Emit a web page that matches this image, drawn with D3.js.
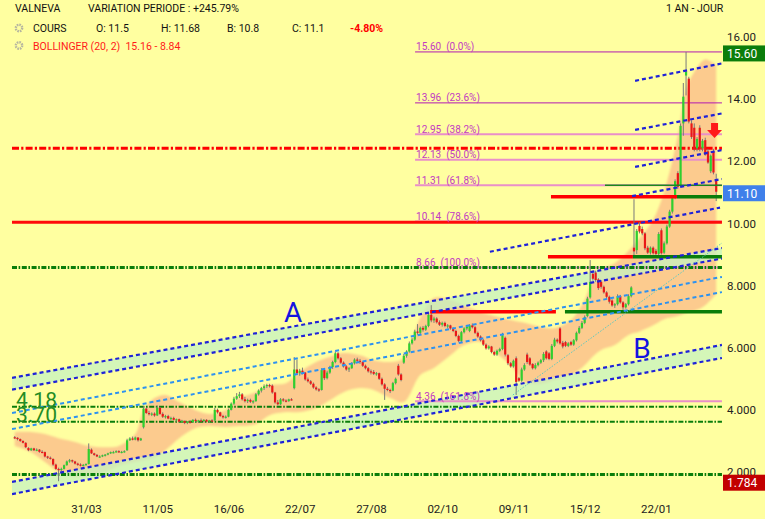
<!DOCTYPE html>
<html><head><meta charset="utf-8">
<script src="https://cdn.jsdelivr.net/npm/d3@7"></script>
<style>
html,body{margin:0;padding:0;background:#FFFFA0;}
svg{display:block;}
text{font-family:Roboto,"Liberation Sans",Arial,sans-serif;}
</style></head><body>
<svg id="chart" width="765" height="519"></svg>
<script>
// ---------- DATA ----------
const ohlc = [
[3.20,3.24,3.14,3.18],[3.18,3.20,3.10,3.14],[3.14,3.16,3.05,3.08],[3.08,3.10,3.00,3.02],[3.02,3.04,2.85,2.88],
[2.85,2.88,2.75,2.78],[2.78,2.86,2.76,2.84],[2.84,2.86,2.76,2.78],[2.80,2.84,2.75,2.80],[2.80,2.82,2.70,2.73],
[2.73,2.78,2.68,2.72],[2.72,2.74,2.55,2.58],[2.58,2.60,2.50,2.54],[2.54,2.58,2.48,2.52],[2.50,2.52,2.28,2.32],
[2.32,2.35,2.15,2.18],[2.18,2.22,1.784,2.15],[2.15,2.22,2.10,2.18],[2.18,2.32,2.16,2.30],[2.30,2.45,2.28,2.42],
[2.42,2.50,2.38,2.46],[2.46,2.48,2.38,2.42],[2.42,2.44,2.32,2.35],[2.35,2.38,2.28,2.32],[2.32,2.36,2.26,2.30],
[2.30,2.34,2.26,2.31],[2.31,2.36,2.28,2.34],[2.34,3.00,2.32,2.82],[2.80,2.84,2.66,2.68],[2.68,2.70,2.60,2.63],
[2.63,2.66,2.56,2.58],[2.58,2.62,2.54,2.58],[2.58,2.64,2.56,2.62],[2.62,2.66,2.58,2.64],[2.64,2.70,2.62,2.68],
[2.68,2.74,2.66,2.72],[2.72,2.76,2.68,2.72],[2.72,2.78,2.70,2.75],[2.75,2.78,2.70,2.72],[2.72,2.76,2.68,2.73],
[2.73,2.78,2.70,2.75],[2.78,3.15,2.76,3.10],[3.10,3.20,3.08,3.16],[3.16,3.22,3.10,3.12],[3.12,3.22,3.10,3.19],
[3.19,3.20,3.06,3.10],[3.10,3.18,3.08,3.16],[3.52,4.20,3.48,4.12],
[4.12,4.14,3.95,3.98],[3.98,4.05,3.90,3.94],[3.94,4.00,3.88,3.96],[3.96,4.00,3.86,3.90],[3.90,4.22,3.88,4.15],
[4.15,4.18,3.92,3.95],[3.95,4.00,3.82,3.86],[3.86,3.92,3.80,3.88],[3.88,3.92,3.78,3.80],[3.80,3.86,3.74,3.82],
[3.82,3.86,3.74,3.76],[3.76,3.80,3.70,3.78],[3.78,3.80,3.68,3.70],[3.70,3.76,3.66,3.72],[3.72,3.74,3.62,3.66],
[3.66,3.72,3.62,3.70],[3.70,3.74,3.64,3.68],[3.68,3.78,3.66,3.76],[3.76,3.80,3.70,3.72],[3.72,3.76,3.66,3.74],
[3.74,3.80,3.70,3.72],[3.72,3.78,3.68,3.76],[3.76,3.78,3.68,3.70],[3.70,3.76,3.66,3.74],[3.74,3.78,3.70,3.72],
[3.74,4.14,3.72,4.08],[4.08,4.12,3.96,4.00],[4.00,4.02,3.86,3.88],[3.88,3.92,3.80,3.84],[3.84,3.90,3.80,3.86],
[3.86,4.12,3.84,4.08],[4.08,4.32,4.06,4.28],[4.28,4.50,4.24,4.44],[4.44,4.62,4.40,4.52],[4.52,4.66,4.46,4.58],
[4.58,4.62,4.38,4.42],[4.42,4.50,4.32,4.36],[4.36,4.44,4.30,4.40],[4.40,4.44,4.30,4.34],[4.34,4.40,4.28,4.36],
[4.36,4.62,4.34,4.58],[4.58,4.74,4.54,4.70],[4.70,4.82,4.64,4.78],[4.78,4.90,4.72,4.84],[4.84,4.92,4.78,4.88],
[4.88,4.92,4.80,4.86],[4.86,4.90,4.60,4.64],[4.64,4.66,4.28,4.32],[4.32,4.40,4.22,4.26],[4.26,4.46,4.24,4.42],
[4.42,4.46,4.34,4.38],[4.38,4.42,4.32,4.36],[4.36,4.44,4.34,4.42],[4.42,4.46,4.38,4.40],[4.78,5.78,4.74,5.38],
[5.38,5.70,5.20,5.26],[5.26,5.40,5.18,5.34],[5.34,5.44,5.22,5.28],[5.28,5.30,5.02,5.06],[5.06,5.12,4.96,5.00],
[5.00,5.04,4.88,4.92],[4.92,4.96,4.76,4.80],[4.80,4.84,4.70,4.74],[4.74,4.78,4.66,4.72],
[4.72,5.42,4.70,5.36],[5.36,5.40,5.04,5.10],[5.10,5.34,5.06,5.28],[5.28,5.50,5.24,5.46],[5.46,5.66,5.40,5.62],
[5.62,5.96,5.58,5.90],[5.90,5.94,5.70,5.74],[5.74,5.78,5.56,5.60],[5.60,5.64,5.44,5.48],[5.48,5.52,5.34,5.38],
[5.38,5.46,5.30,5.42],[5.42,5.62,5.40,5.58],[5.58,5.74,5.54,5.70],[5.70,5.76,5.62,5.66],[5.66,5.72,5.56,5.62],
[5.62,5.64,5.46,5.50],[5.50,5.54,5.38,5.42],[5.42,5.46,5.28,5.32],[5.32,5.38,5.22,5.30],[5.30,5.36,5.20,5.24],
[5.24,5.30,5.18,5.26],[5.26,5.28,5.04,5.08],[5.08,5.12,4.86,4.90],[4.90,4.94,4.40,4.76],[4.76,4.82,4.68,4.72],
[4.72,4.76,4.62,4.70],[4.70,4.98,4.68,4.94],[4.94,5.12,4.90,5.08],[5.50,5.56,5.18,5.22],[5.22,5.26,5.00,5.04],
[5.60,5.88,5.56,5.82],[5.82,6.00,5.76,5.96],[5.96,6.28,5.92,6.22],[6.22,6.40,6.18,6.34],[6.34,6.66,6.30,6.60],
[6.60,6.84,6.50,6.56],[6.56,6.76,6.52,6.72],[6.72,6.78,6.60,6.66],[6.66,6.82,6.62,6.78],[6.78,7.20,6.74,7.14],
[7.14,7.45,6.90,6.96],[6.96,7.08,6.88,7.02],[7.02,7.06,6.86,6.90],[6.90,6.96,6.78,6.82],[6.82,6.92,6.76,6.88],
[6.88,6.92,6.74,6.78],[6.78,6.84,6.70,6.80],[6.80,6.82,6.66,6.70],[6.70,6.74,6.58,6.62],[6.62,6.66,6.42,6.46],
[6.46,6.50,6.26,6.30],[6.30,6.62,6.26,6.58],[6.58,6.74,6.54,6.70],
[6.70,6.80,6.64,6.76],[6.62,6.84,6.58,6.80],[6.80,6.86,6.70,6.74],[6.74,6.78,6.52,6.56],[6.56,6.60,6.40,6.44],
[6.44,6.48,6.28,6.32],[6.32,6.36,6.14,6.18],[6.18,6.22,6.02,6.06],[6.06,6.16,6.02,6.12],[6.12,6.14,5.90,5.94],
[5.94,5.98,5.82,5.86],[5.86,6.02,5.82,5.98],[5.98,6.08,5.94,6.04],[6.04,6.56,6.00,6.48],[6.40,6.44,5.80,5.86],
[5.84,5.88,5.52,5.58],[5.58,5.62,5.44,5.48],[5.48,5.70,5.44,5.66],[5.74,5.80,4.56,4.98],[5.10,5.14,4.98,5.02],
[5.02,5.44,4.98,5.38],[5.38,5.58,5.34,5.52],[5.86,5.92,5.56,5.62],[5.74,5.78,5.50,5.54],[5.56,5.58,5.38,5.42],
[5.42,5.58,5.38,5.52],[5.52,5.64,5.48,5.60],[5.60,5.72,5.56,5.68],[5.68,5.94,5.62,5.88],[5.96,6.00,5.70,5.74],
[5.90,5.94,5.68,5.72],[5.72,6.20,5.68,6.14],[6.14,6.40,6.10,6.34],[6.34,6.38,6.22,6.28],[6.70,6.74,6.18,6.22],
[6.24,6.30,6.06,6.12],[6.26,6.30,6.10,6.14],[6.14,6.26,6.10,6.22],[6.26,6.30,6.14,6.18],[6.18,6.36,6.14,6.32],
[6.32,6.60,6.28,6.56],[6.56,6.78,6.52,6.72],[6.72,6.94,6.68,6.88],[6.88,7.12,6.84,7.06],[7.10,7.72,7.06,7.66],
[7.70,8.90,7.66,8.20],[8.46,8.56,8.24,8.30],[8.50,8.56,8.20,8.26],[8.28,8.32,7.94,8.00],[8.20,8.26,7.98,8.04],
[8.04,8.08,7.82,7.86],[7.86,7.90,7.66,7.72],[7.72,7.76,7.50,7.56],[7.60,7.64,7.40,7.44],[7.44,7.52,7.36,7.48],
[7.48,7.80,7.44,7.74],[7.74,7.78,7.50,7.54],[7.54,7.58,7.30,7.38],[7.38,7.52,7.34,7.48],[7.48,7.80,7.44,7.74],
[7.74,8.06,7.70,8.02],[9.30,10.86,8.98,9.18],[9.22,9.90,9.10,9.84],[10.00,10.12,9.76,9.82],[9.90,9.98,9.70,9.76],
[9.76,9.80,9.22,9.28],[9.30,9.36,9.10,9.14],[9.14,9.34,9.08,9.30],[9.30,9.34,9.08,9.12],[9.20,9.26,9.04,9.10],
[9.10,9.80,9.06,9.74],[9.86,9.92,9.08,9.12],[9.14,9.50,9.10,9.44],[9.44,10.04,9.40,9.98],[9.98,10.52,9.94,10.46],
[10.46,10.96,10.40,10.90],[10.90,11.50,10.86,11.44],[11.70,11.76,11.20,11.26],[11.30,13.30,11.24,13.22],[13.30,14.60,12.90,14.16],
[14.84,15.60,14.20,14.96],[14.74,14.80,13.30,13.36],[13.30,13.40,12.80,12.86],[13.16,13.30,12.40,12.46],[12.50,12.86,12.40,12.80],
[13.16,13.24,12.40,12.46],[12.50,12.80,12.40,12.74],[12.76,12.84,12.26,12.30],[12.40,12.48,12.00,12.04],[11.76,12.30,11.70,12.26],
[12.40,12.48,11.66,11.72],[11.50,11.68,10.80,11.10]
];

// Bollinger (20,2) band
const bbIdx   = [0,6,11,16,22,27,33,38,44,47,51,55,60,66,71,77,82,88,93,99,104,110,115,120,126,131,137,142,148,153,159,164,170,175,181,186,192,197,203,208,211,214,219,224,228,233,237,242,245,249,252,256];
const bbUpper = [3.37,3.37,3.30,3.17,3.05,2.92,2.88,2.92,3.30,4.07,4.46,4.56,4.33,4.07,3.95,4.07,4.46,4.65,4.88,4.94,5.30,5.62,5.78,5.91,5.84,5.68,5.62,5.75,7.04,7.68,7.62,7.45,7.23,7.10,6.97,6.88,6.75,6.71,6.97,7.62,8.30,8.60,8.80,9.20,9.60,10.20,11.10,12.90,14.40,15.10,15.36,15.16];
const bbLower = [2.92,2.72,2.40,2.08,1.92,1.95,2.08,2.27,2.40,2.46,2.53,2.78,3.17,3.50,3.56,3.53,3.56,3.62,3.91,4.01,4.01,4.14,4.39,4.65,4.78,4.72,4.46,4.33,5.20,5.43,5.84,6.17,6.26,5.94,5.52,4.98,4.91,5.04,5.20,5.52,5.80,6.01,6.17,6.49,6.60,6.80,7.00,7.10,7.20,7.30,7.45,7.80];

// axes
const xTickIdx    = [26,52,78,104,130,156,182,208,234];
const xTickLabels = ["31/03","11/05","16/06","22/07","27/08","02/10","09/11","15/12","22/01"];
const yTicks      = [16,14,12,10,8,6,4,2];
const yTickLabels = ["16.00","14.00","12.00","10.00","8.000","6.000","4.000","2.000"];

// Fibonacci retracement
const fibValues = [15.60,13.96,12.95,12.13,11.31,10.14,8.66,4.36];
const fibPct    = ["0.0%","23.6%","38.2%","50.0%","61.8%","78.6%","100.0%","161.8%"];
const fibRange  = [146.1,258.1];

// drawn levels
const greenDashLevels = [8.66,4.18,3.70,2.0];
const greenDashWidths = [3,2,2,3];
const redDashLevel = 12.50;
const redLevel = 10.12;
const segLevels  = [10.94,9.01,7.24];
const segRed     = [[195.7,241.7],[194.6,225.6],[151.6,197.5]];
const segGreen   = [[241.7,258.1],[225.6,258.1],[200.8,258.1]];
const thinGreen  = {v:11.31, from:215.4, to:258.1};

// trend channels  [index, price]
const chanAUpper = [[-1,5.11],[258.1,9.29]], chanALower = [[-1,4.73],[258.1,8.95]];
const chanBUpper = [[-1,1.76],[258.1,6.17]], chanBLower = [[-1,1.37],[258.1,5.75]];
const midLines   = [[[-1,3.98],[258.1,8.36]],[[-1,3.46],[258.1,7.87]]];
const spikeLines = [[[226.4,14.67],[258.1,15.23]],[[226.4,13.09],[258.1,13.62]],[[226.4,11.90],[258.1,12.44]],[[225.3,10.96],[258.1,11.51]],[[173.4,9.17],[257.4,10.59]]];
const tealLine   = [[181.8,4.56],[258.1,9.45]];

const badges = [{v:15.60,label:"15.60",color:"#0b7d0b"},{v:11.10,label:"11.10",color:"#3f80ea"},{v:1.784,label:"1.784",color:"#c30000"}];
const levelLabels = [{v:4.18,t:"4.18"},{v:3.70,t:"3.70"}];
const channelNames = [{i:101.6,v:6.91,t:"A"},{i:228.9,v:5.75,t:"B"}];
const arrowMark = {i:255.4, tip:12.83, top:13.31};

// ---------- CHART ----------
const W=765,H=519;
const svg=d3.select("#chart");
const x=d3.scaleLinear().domain([0,256]).range([14.75,716.2]);
const y=d3.scaleLinear().domain([2,16]).range([474.5,39.5]);

const defs=svg.append("defs");
defs.append("clipPath").attr("id","clip").append("rect").attr("x",12).attr("y",28).attr("width",710).attr("height",480);
defs.append("filter").attr("id","blur").attr("x","-5%").attr("y","-5%").attr("width","110%").attr("height","110%")
  .append("feGaussianBlur").attr("stdDeviation",1.3);

svg.append("rect").attr("width",W).attr("height",H).attr("fill","#FFFFA0");
const g=svg.append("g").attr("clip-path","url(#clip)");

// Bollinger band
const bb=bbIdx.map((d,k)=>({i:d,u:bbUpper[k],l:bbLower[k]}));
g.append("path").datum(bb)
 .attr("d",d3.area().x(d=>x(d.i)).y0(d=>y(d.l)).y1(d=>y(d.u)).curve(d3.curveCatmullRom))
 .attr("fill","#FCCB8E").attr("filter","url(#blur)");

// channel fills
const chanArea=(up,lo)=>d3.area().x(d=>x(d[0])).y0((d,k)=>y(lo[k][1])).y1(d=>y(d[1]))(up);
[[chanAUpper,chanALower],[chanBUpper,chanBLower]].forEach(([u,l])=>{
  g.append("path").attr("d",chanArea(u,l)).attr("fill","#c6f3c0").attr("opacity",0.75);
});

const line=d3.line().x(d=>x(d[0])).y(d=>y(d[1]));
const hline=(v,a,b)=>line([[a,v],[b,v]]);

// fib lines
fibValues.forEach((v,k)=>{
  g.append("path").attr("d",hline(v,fibRange[0],fibRange[1]))
   .attr("stroke",k<2?"#b21ab2":"#e98fc9").attr("stroke-width",k<2?1:2).attr("fill","none");
});

// green dash-dot levels
greenDashLevels.forEach((v,k)=>{
  g.append("path").attr("d",hline(v,-1,258.1)).attr("stroke","#0a7d0a")
   .attr("stroke-width",greenDashWidths[k]).attr("stroke-dasharray","5,1.6,1.6,1.6").attr("fill","none");
});
// red levels
g.append("path").attr("d",hline(redDashLevel,-1,258.1)).attr("stroke","#ff0000").attr("stroke-width",3)
 .attr("stroke-dasharray","7,2.2,2.2,2.2").attr("fill","none");
g.append("path").attr("d",hline(redLevel,-1,258.1)).attr("stroke","#ff0a0a").attr("stroke-width",3).attr("fill","none");

// candles
const cg=g.append("g");
ohlc.forEach((d,k)=>{
  const [o,h,l,c]=d;
  cg.append("line").attr("x1",x(k)).attr("x2",x(k)).attr("y1",y(h)).attr("y2",y(l))
    .attr("stroke","#7a7a7a").attr("stroke-width",1);
  const top=Math.min(y(o),y(c)), ht=Math.max(1.2,Math.abs(y(o)-y(c)));
  cg.append("rect").attr("x",x(k)-1.1).attr("width",2.2).attr("y",top).attr("height",ht)
    .attr("fill",c>=o?"#2fcf2f":"#e81818");
});

// support / resistance segments
segLevels.forEach((v,k)=>{
  g.append("path").attr("d",hline(v,segRed[k][0],segRed[k][1])).attr("stroke","#ff0000").attr("stroke-width",3.5).attr("fill","none");
  g.append("path").attr("d",hline(v,segGreen[k][0],segGreen[k][1])).attr("stroke","#0a7d0a").attr("stroke-width",3.5).attr("fill","none");
});
g.append("path").attr("d",hline(thinGreen.v,thinGreen.from,thinGreen.to)).attr("stroke","#1c8a1c").attr("stroke-width",1.5).attr("fill","none");

// channel lines
[chanAUpper,chanALower,chanBUpper,chanBLower].concat(spikeLines).forEach(p=>{
  g.append("path").attr("d",line(p)).attr("stroke","#1f22d8").attr("stroke-width",2.2)
   .attr("stroke-dasharray","4,3").attr("fill","none");
});
midLines.forEach(p=>{
  g.append("path").attr("d",line(p)).attr("stroke","#2d92f0").attr("stroke-width",2)
   .attr("stroke-dasharray","4,3").attr("fill","none");
});
g.append("path").attr("d",line(tealLine)).attr("stroke","#5cc9c0").attr("stroke-width",1)
 .attr("stroke-dasharray","1.5,1.5").attr("fill","none");

// fib labels
fibValues.forEach((v,k)=>{
  svg.append("text").attr("x",x(fibRange[0])+1).attr("y",y(v)-1.5)
   .attr("font-size",10).attr("fill","#c23bc2").attr("xml:space","preserve")
   .style("white-space","pre").text(v.toFixed(2)+"  ("+fibPct[k]+")");
});

// level labels 4.18 / 3.70
levelLabels.forEach(d=>{
  svg.append("text").attr("x",16).attr("y",y(d.v)+0.5).attr("font-size",21)
   .attr("font-family","'Liberation Sans',Arial,sans-serif").attr("fill","#238c23").text(d.t);
});
// channel names
channelNames.forEach(d=>{
  svg.append("text").attr("x",x(d.i)).attr("y",y(d.v)).attr("text-anchor","middle")
   .attr("font-size",28).attr("font-family","'Liberation Sans',Arial,sans-serif").attr("fill","#1414e0").text(d.t);
});

// arrow
{
  const ax=x(arrowMark.i), ty=y(arrowMark.tip), tp=y(arrowMark.top);
  svg.append("path").attr("d",`M${ax-3.5},${tp}H${ax+3.5}V${ty-8}H${ax+7.5}L${ax},${ty}L${ax-7.5},${ty-8}H${ax-3.5}Z`)
    .attr("fill","#ff1a1a");
}

// axes
const ya=svg.append("g").attr("transform","translate(724,0)")
  .call(d3.axisRight(y).tickValues(yTicks).tickFormat((d,k)=>yTickLabels[k]).tickSize(0).tickPadding(3));
ya.select(".domain").remove();
ya.selectAll("text").attr("y",-2.5).attr("font-size",11.5).attr("fill","#222").attr("font-family","Roboto,Arial,sans-serif");

const xa=svg.append("g").attr("transform","translate(0,503)")
  .call(d3.axisBottom(x).tickValues(xTickIdx).tickFormat((d,k)=>xTickLabels[k]).tickSize(0).tickPadding(2));
xa.select(".domain").remove();
xa.selectAll("text").attr("font-size",11.5).attr("fill","#222").attr("font-family","Roboto,Arial,sans-serif");

// badges
badges.forEach(b=>{
  const cy=y(b.v)+1.5;
  svg.append("rect").attr("x",723).attr("y",cy-8).attr("width",42).attr("height",16).attr("fill",b.color);
  svg.append("text").attr("x",727).attr("y",cy+4.5).attr("font-size",12).attr("fill","#fff").text(b.label);
});

// header
const hdr=[
  {x:15,y:11.5,t:"VALNEVA",c:"#111"},
  {x:88,y:11.5,t:"VARIATION PERIODE : +245.79%",c:"#111"},
  {x:33,y:32,t:"COURS",c:"#111"},
  {x:96,y:32,t:"O: 11.5",c:"#111"},
  {x:161,y:32,t:"H: 11.68",c:"#111"},
  {x:227,y:32,t:"B: 10.8",c:"#111"},
  {x:292,y:32,t:"C: 11.1",c:"#111"},
  {x:350,y:32,t:"-4.80%",c:"#ff0000",b:true},
  {x:33,y:49.5,t:"BOLLINGER (20, 2)  15.16 - 8.84",c:"#ff1a1a"},
  {x:666,y:11.5,t:"1 AN - JOUR",c:"#111"}
];
hdr.forEach(d=>{
  svg.append("text").attr("x",d.x).attr("y",d.y).attr("font-size",10.5).attr("fill",d.c)
   .attr("font-weight",d.b?"bold":"normal").style("white-space","pre").text(d.t);
});
// gear icons
[28,45.5].forEach(cy=>{
  svg.append("circle").attr("cx",19).attr("cy",cy).attr("r",3.2).attr("fill","none")
    .attr("stroke","#b5b5a0").attr("stroke-width",2.4).attr("stroke-dasharray","1.6,0.9");
  svg.append("circle").attr("cx",19).attr("cy",cy).attr("r",1.3).attr("fill","#FFFFA0");
});
</script>
</body></html>
